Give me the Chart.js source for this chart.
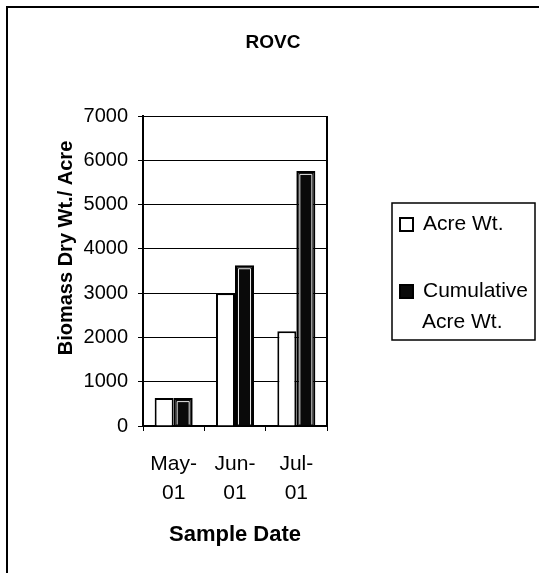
<!DOCTYPE html>
<html>
<head>
<meta charset="utf-8">
<script src="https://cdn.jsdelivr.net/npm/chart.js@4/dist/chart.umd.min.js"></script>
<style>
  html, body { margin: 0; padding: 0; background: #fff; }
  #wrap { position: relative; width: 539px; height: 573px; }
</style>
</head>
<body>
<div id="wrap"><canvas id="c" width="539" height="573"></canvas></div>
<script>
const chartTitle = "ROVC";
const categories = [["May-", "01"], ["Jun-", "01"], ["Jul-", "01"]];
const seriesNames = ["Acre Wt.", "Cumulative Acre Wt."];
const acreWt = [630, 3000, 2140];
const cumulativeAcreWt = [630, 3630, 5760];
const yTicks = [0, 1000, 2000, 3000, 4000, 5000, 6000, 7000];
const xTitle = "Sample Date";
const yTitle = "Biomass Dry Wt./ Acre";

const FONT = "'Liberation Sans', Arial, sans-serif";
Chart.defaults.font.family = FONT;
Chart.defaults.color = "#000";

const framePlugin = {
  id: "frame",
  afterDatasetsDraw(chart) {
    // thin light inner outline on the dark (cumulative) bars, as in the scanned pattern fill
    const ctx = chart.ctx;
    const meta = chart.getDatasetMeta(1);
    ctx.save();
    ctx.strokeStyle = "#e8e8e8";
    ctx.lineWidth = 1;
    meta.data.forEach(el => {
      const p = el.getProps(["x", "y", "base", "width"], true);
      const left = p.x - p.width / 2 + 3.5;
      const right = p.x + p.width / 2 - 3.5;
      const top = p.y + 3.5;
      const bottom = p.base - 1;
      if (bottom - top > 4) {
        ctx.beginPath();
        ctx.moveTo(left, bottom);
        ctx.lineTo(left, top);
        ctx.lineTo(right, top);
        ctx.lineTo(right, bottom);
        ctx.stroke();
      }
    });
    ctx.restore();
  },
  afterDraw(chart) {
    const ctx = chart.ctx;
    const ca = chart.chartArea;
    ctx.save();
    // outer chart border
    ctx.strokeStyle = "#000";
    ctx.lineWidth = 2;
    ctx.beginPath();
    ctx.moveTo(7, 573);
    ctx.lineTo(7, 7);
    ctx.lineTo(539, 7);
    ctx.stroke();
    // plot area right border
    ctx.beginPath();
    ctx.moveTo(ca.right, ca.top);
    ctx.lineTo(ca.right, ca.bottom);
    ctx.stroke();
    // title
    ctx.fillStyle = "#000";
    ctx.font = "bold 19px " + FONT;
    ctx.textAlign = "center";
    ctx.textBaseline = "alphabetic";
    ctx.fillText(chartTitle, 273, 48);
    // y axis title
    ctx.save();
    ctx.translate(66, 248);
    ctx.rotate(-Math.PI / 2);
    ctx.font = "bold 20px " + FONT;
    ctx.textAlign = "center";
    ctx.textBaseline = "middle";
    ctx.fillText(yTitle, 0, 0);
    ctx.restore();
    // legend
    const lx = 392, ly = 203, lw = 143, lh = 137;
    ctx.lineWidth = 1.5;
    ctx.strokeRect(lx, ly, lw, lh);
    ctx.font = "21px " + FONT;
    ctx.textAlign = "left";
    ctx.textBaseline = "alphabetic";
    const maxW = 108;
    chart.data.datasets.forEach((ds, i) => {
      const base = 230 + i * 67;
      const words = ds.label.split(" ");
      const lines = [];
      let cur = "";
      words.forEach(w => {
        const t = cur ? cur + " " + w : w;
        if (ctx.measureText(t).width > maxW && cur) { lines.push(cur); cur = w; }
        else cur = t;
      });
      if (cur) lines.push(cur);
      ctx.fillStyle = ds.backgroundColor;
      ctx.fillRect(400, base - 12, 13, 13);
      ctx.strokeStyle = "#000";
      ctx.lineWidth = 2;
      ctx.strokeRect(400, base - 12, 13, 13);
      ctx.fillStyle = "#000";
      lines.forEach((ln, j) => {
        ctx.fillText(ln, j === 0 ? 423 : 422, base + j * 31);
      });
    });
    ctx.restore();
  }
};

new Chart(document.getElementById("c"), {
  type: "bar",
  data: {
    labels: categories,
    datasets: [
      {
        label: seriesNames[0],
        data: acreWt,
        backgroundColor: "#ffffff",
        borderColor: "#000000",
        borderWidth: 2,
        categoryPercentage: 0.62,
        barPercentage: 1.0
      },
      {
        label: seriesNames[1],
        data: cumulativeAcreWt,
        backgroundColor: "#0a0a0a",
        borderColor: "#000000",
        borderWidth: 2,
        categoryPercentage: 0.62,
        barPercentage: 1.0
      }
    ]
  },
  options: {
    responsive: false,
    animation: false,
    layout: { padding: { left: 0, top: 116, right: 212, bottom: 0 } },
    plugins: {
      legend: { display: false },
      title: { display: false },
      tooltip: { enabled: false }
    },
    scales: {
      x: {
        grid: { offset: true, drawOnChartArea: false, drawTicks: true, tickLength: 5, color: "#000", lineWidth: 1 },
        border: { color: "#000", width: 2 },
        ticks: { font: { size: 21, lineHeight: 29 / 21 }, color: "#000", padding: 19, maxRotation: 0, autoSkip: false },
        title: { display: true, text: xTitle, color: "#000", font: { size: 22, weight: "bold" }, padding: { top: 0, bottom: 25 } },
        afterFit(s) { s.height = 147; }
      },
      y: {
        min: 0,
        max: 7000,
        afterBuildTicks(s) { s.ticks = yTicks.map(v => ({ value: v })); },
        grid: { color: "#000", lineWidth: 1, drawTicks: true, tickLength: 5 },
        border: { color: "#000", width: 2 },
        ticks: { font: { size: 20 }, color: "#000", padding: 10, callback: v => String(v) },
        title: { display: false },
        afterFit(s) { s.width = 143; }
      }
    }
  },
  plugins: [framePlugin]
});
</script>
</body>
</html>
